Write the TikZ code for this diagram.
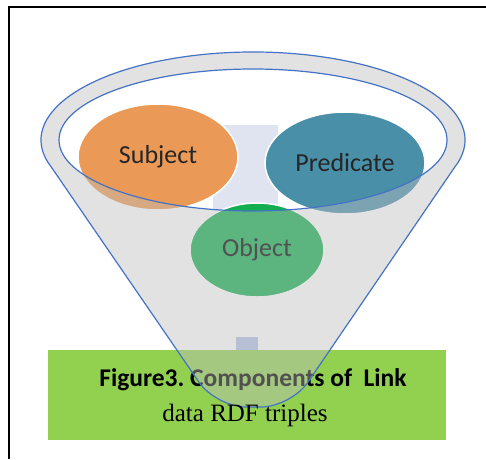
\documentclass[tikz,border=0pt]{standalone}
\usepackage{fontspec}
\setmainfont{Carlito}
\newfontfamily\timescap{Liberation Serif}
\usepackage{xcolor}
\usetikzlibrary{shapes.geometric}
\frenchspacing

\definecolor{subjorange}{HTML}{EA9A56}
\definecolor{predteal}{HTML}{4A8FA8}
\definecolor{objgreen}{HTML}{12AE50}
\definecolor{capgreen}{HTML}{92D050}
\definecolor{funnelblue}{HTML}{4472C4}
\definecolor{funnelgray}{HTML}{BEBEBE}
\definecolor{backblue}{HTML}{DFE4F0}
\definecolor{stemblue}{HTML}{B3C1E8}

\begin{document}
\begin{tikzpicture}[x=1pt, y=1pt]
    \tikzstyle{blob} = [ellipse, draw=white, line width=1.5pt, inner sep=0pt,
        font=\fontsize{26}{30}\selectfont, text=black!85]
    \tikzstyle{captext} = [inner sep=0pt, text=black]
    \useasboundingbox (0,0) rectangle (486,459);
    \fill[white] (0,0) rectangle (486,459);
    % things that sit under the funnel
    \fill[backblue] (213,249) rectangle (278,334);
    \fill[stemblue] (236,109) rectangle (258,122);
    \fill[capgreen] (48,19) rectangle (446,109);
    \node [captext, font=\fontsize{25.5}{30}\selectfont\bfseries] at (253,79) (figtitle)
        {Figure3. Components of\ \ Link};
    \node [blob, fill=subjorange, minimum width=160, minimum height=106] at (158,302)
        (subject) {Subject};
    \node [blob, fill=predteal, minimum width=160, minimum height=102] at (345,296)
        (predicate) {Predicate};
    \node [blob, fill=objgreen, minimum width=134, minimum height=94, text=black] at (257,209)
        (object) {Object};
    % the funnel, see-through outside the rim
    \path[draw=funnelblue, line width=1.2pt, fill=funnelgray, fill opacity=0.43, even odd rule]
        (51.4,291.8) arc[start angle=198, end angle=-18, x radius=212, y radius=88]
        [rounded corners=30] -- (291,52) -- (216,52) [sharp corners] -- cycle
        (253,319) ellipse [x radius=194, y radius=71];
    %\draw[funnelblue] (253,319) ellipse [x radius=212, y radius=88];
    \fill[capgreen] (48,19) rectangle (446,51);
    \node [captext, font=\timescap\fontsize{25}{30}\selectfont] at (245,44) (figsub)
        {data RDF triples};
    \draw[line width=1.5pt] (9,0) -- (9,452) -- (486,452);
\end{tikzpicture}
\end{document}
